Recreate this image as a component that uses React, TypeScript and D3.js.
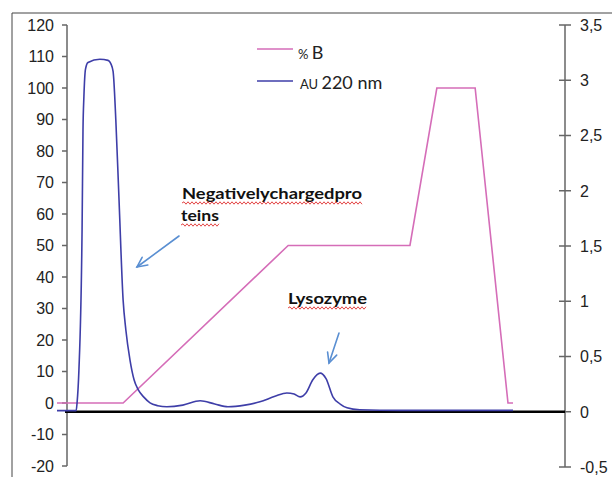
import React from "react";
import * as d3 from "d3";

const percentBTime = [0, 14.5, 50.7, 77.4, 83.3, 91.7, 98.9, 100];
const percentBValue = [0, 0, 50, 50, 100, 100, 0, 0];

const auTime = [0, 4.2, 4.4, 4.8, 5.5, 5.7, 5.9, 6.25, 6.8, 9.4, 11.2, 11.8, 12.3, 12.9, 13.6, 14.5, 15.1, 16.0, 16.9, 17.8, 19.1, 20.4, 22.1, 24.1, 27.6, 31.4, 34.6, 37.5, 41.2, 44.5, 47.8, 50.4, 52.0, 53.3, 54.6, 56.1, 57.7, 59.0, 60.5, 62.1, 63.6, 66.4, 75.2, 100];
const auValue = [0.01, 0.01, 0.08, 0.37, 1.65, 2.55, 2.85, 3.1, 3.16, 3.19, 3.18, 3.15, 3.08, 2.64, 1.92, 1.01, 0.74, 0.47, 0.29, 0.2, 0.13, 0.08, 0.055, 0.045, 0.06, 0.1, 0.07, 0.045, 0.06, 0.09, 0.14, 0.17, 0.16, 0.135, 0.17, 0.29, 0.35, 0.3, 0.135, 0.07, 0.036, 0.018, 0.012, 0.012];

const leftTicks = [120, 110, 100, 90, 80, 70, 60, 50, 40, 30, 20, 10, 0, -10, -20];
const rightTicks = [3.5, 3, 2.5, 2, 1.5, 1, 0.5, 0, -0.5];

const PINK = "#d56db8";
const BLUE = "#3e3ea8";
const ARROW = "#5a8fd2";

function wavy(x0: number, x1: number, y: number) {
  let d = `M${x0},${y}`;
  const step = 2;
  let up = true;
  for (let x = x0 + step; x <= x1; x += step) {
    d += ` L${x},${y + (up ? -1.2 : 1.2)}`;
    up = !up;
  }
  return d;
}

export default function App() {
  const x = d3.scaleLinear().domain([0, 100]).range([57, 513]);
  const yL = d3.scaleLinear().domain([-20, 120]).range([466, 25]);
  const yR = d3.scaleLinear().domain([-0.5, 3.5]).range([467, 25]);

  const pinkLine = d3
    .line<number>()
    .x((_, i) => x(percentBTime[i]))
    .y((v) => yL(v))(percentBValue) as string;

  const blueLine = d3
    .line<number>()
    .x((_, i) => x(auTime[i]))
    .y((v) => yR(v))
    .curve(d3.curveMonotoneX)(auValue) as string;

  const axisColor = "#666";
  const tickFont = "'Liberation Sans', Arial, sans-serif";
  const noteFont = "Lato, 'Open Sans', sans-serif";
  const fmt = (v: number) => String(v).replace(".", ",");

  const arrow = (x1: number, y1: number, x2: number, y2: number) => {
    const ang = Math.atan2(y2 - y1, x2 - x1);
    const L = 11;
    const a1 = ang + Math.PI - 0.45;
    const a2 = ang + Math.PI + 0.45;
    return (
      <g stroke={ARROW} strokeWidth={1.6} fill="none" strokeLinecap="round">
        <line x1={x1} y1={y1} x2={x2} y2={y2} />
        <path d={`M${x2 + L * Math.cos(a1)},${y2 + L * Math.sin(a1)} L${x2},${y2} L${x2 + L * Math.cos(a2)},${y2 + L * Math.sin(a2)}`} />
      </g>
    );
  };

  return (
    <svg width={612} height={477} style={{ position: "absolute", left: 0, top: 0 }}>
      <rect x={0} y={0} width={612} height={477} fill="#fff" />
      <line x1={12} y1={13} x2={612} y2={13} stroke="#444" strokeWidth={1} />
      <line x1={12} y1={13} x2={12} y2={477} stroke="#444" strokeWidth={1} />

      {/* left axis */}
      <line x1={67} y1={yL(120)} x2={67} y2={yL(-20)} stroke={axisColor} strokeWidth={1.5} />
      {leftTicks.map((t) => (
        <g key={"l" + t}>
          <line x1={62} x2={67} y1={yL(t)} y2={yL(t)} stroke={axisColor} strokeWidth={1.5} />
          <text x={54} y={yL(t)} dy="0.36em" textAnchor="end" fontFamily={tickFont} fontSize={16} fill="#222">
            {t}
          </text>
        </g>
      ))}

      {/* right axis */}
      <line x1={565} y1={yR(3.5)} x2={565} y2={yR(-0.5)} stroke={axisColor} strokeWidth={1.5} />
      {rightTicks.map((t) => (
        <g key={"r" + t}>
          <line x1={559} x2={571} y1={yR(t)} y2={yR(t)} stroke={axisColor} strokeWidth={1.5} />
          <text x={580} y={yR(t)} dy="0.36em" textAnchor="start" fontFamily={tickFont} fontSize={16} fill="#222">
            {fmt(t)}
          </text>
        </g>
      ))}

      {/* zero line */}
      <line x1={65} x2={565} y1={yR(0)} y2={yR(0)} stroke="#000" strokeWidth={2.5} />

      <path d={pinkLine} fill="none" stroke={PINK} strokeWidth={1.6} />
      <path d={blueLine} fill="none" stroke={BLUE} strokeWidth={1.6} />

      {/* legend */}
      <line x1={257} x2={293} y1={49} y2={49} stroke={PINK} strokeWidth={1.6} />
      <text x={298} y={59} fontFamily={noteFont} fill="#222">
        <tspan fontSize={13}>% </tspan>
        <tspan fontSize={18}>B</tspan>
      </text>
      <line x1={257} x2={293} y1={81} y2={81} stroke={BLUE} strokeWidth={1.6} />
      <text x={300} y={89} fontFamily={noteFont} fill="#222">
        <tspan fontSize={13}>AU </tspan>
        <tspan fontSize={18}>220 nm</tspan>
      </text>

      {/* annotations */}
      <text x={182} y={199} fontFamily={noteFont} fontWeight="bold" fontSize={15} fill="#111" textLength={180} lengthAdjust="spacingAndGlyphs">
        Negativelychargedpro
      </text>
      <path d={wavy(182, 362, 203)} stroke="#e03030" strokeWidth={0.9} fill="none" />
      <text x={181} y={221} fontFamily={noteFont} fontWeight="bold" fontSize={15} fill="#111" textLength={38} lengthAdjust="spacingAndGlyphs">
        teins
      </text>
      <path d={wavy(181, 219, 225)} stroke="#e03030" strokeWidth={0.9} fill="none" />
      <text x={288} y={304} fontFamily={noteFont} fontWeight="bold" fontSize={15} fill="#111" textLength={79} lengthAdjust="spacingAndGlyphs">
        Lysozyme
      </text>
      <path d={wavy(288, 367, 308)} stroke="#e03030" strokeWidth={0.9} fill="none" />

      {arrow(179, 236, 137, 267)}
      {arrow(339, 333, 329, 363)}
    </svg>
  );
}
